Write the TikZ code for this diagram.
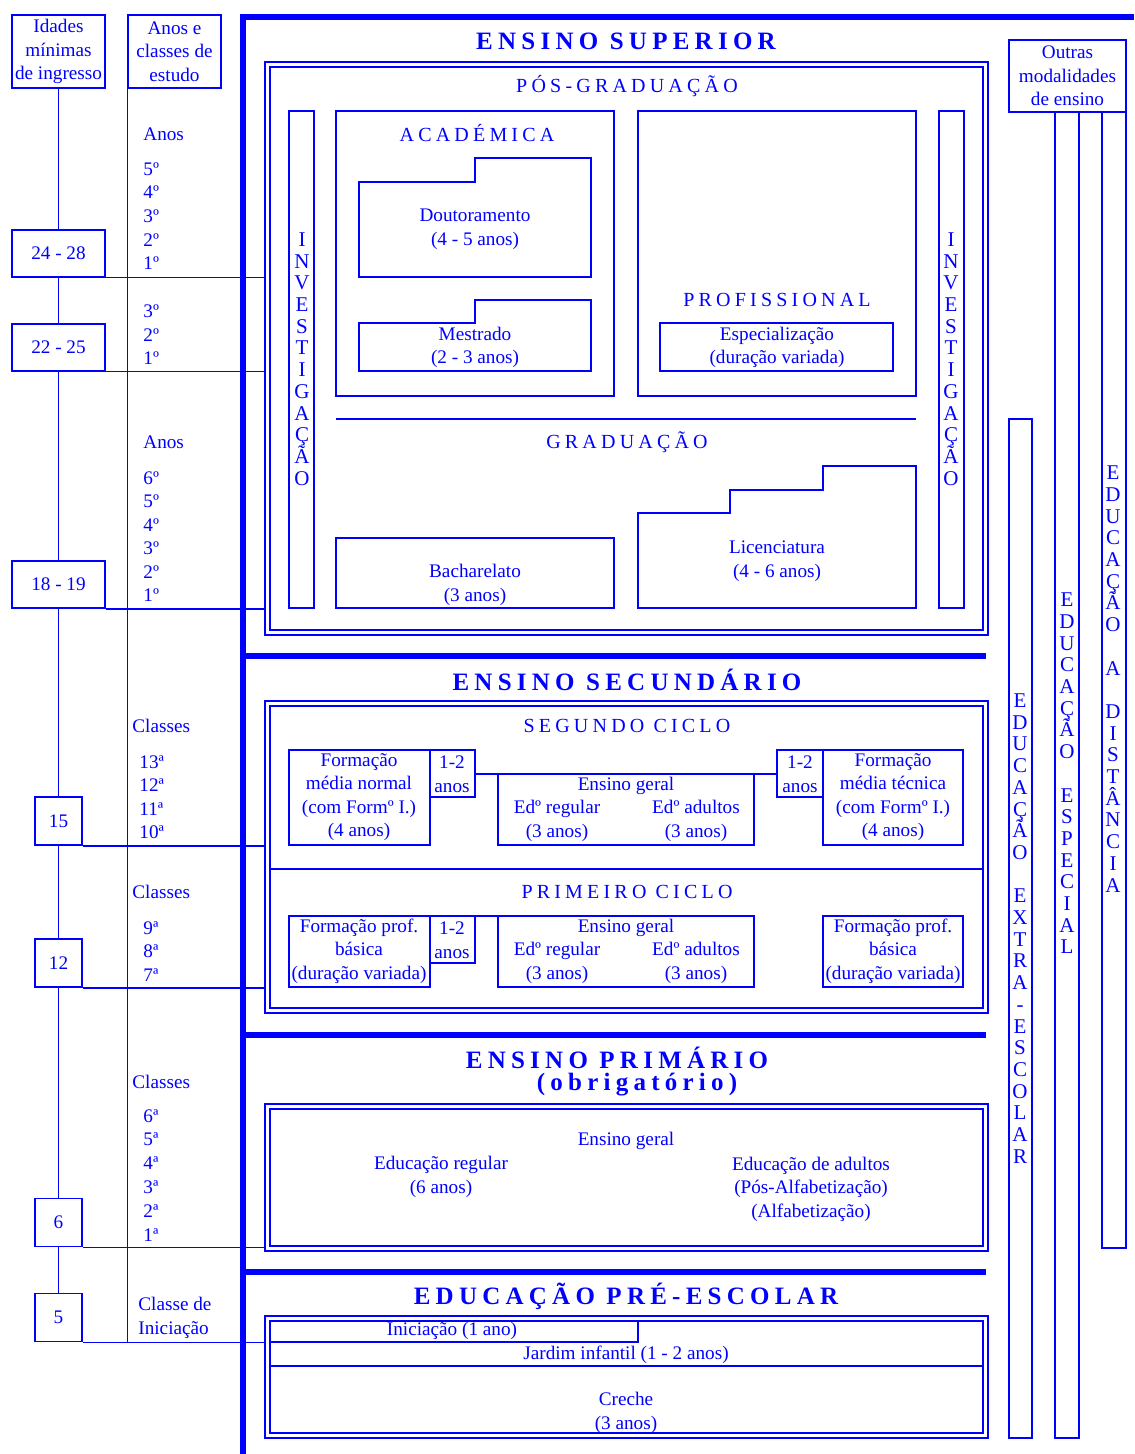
\documentclass[tikz,border=0pt]{standalone}
\usepackage{fontspec}
\setmainfont{Liberation Serif}
\newfontfamily\spacedfont[LetterSpace=21]{Liberation Serif}
\usetikzlibrary{calc}
\definecolor{azul}{RGB}{0,0,255}
\newcommand{\vletfont}{\fontsize{10.5}{10.85}\selectfont\lineskiplimit-20pt\relax}
\tikzset{
    ln/.style={draw=azul,line width=0.75pt},
    bar/.style={draw=azul,line width=3.3pt},
    txt/.style={text=azul,font=\fontsize{9.6}{11.75}\selectfont,align=center,inner sep=0pt},
    lcol/.style={txt,anchor=west,align=left},
    subtit/.style={text=azul,font=\spacedfont\fontsize{10}{12}\selectfont,inner sep=0pt},
    tit/.style={text=azul,font=\spacedfont\bfseries\fontsize{12.5}{15}\selectfont,inner sep=0pt},
    vlet/.style={text=azul,font=\vletfont,align=center,inner sep=0pt},
    agebox/.style={draw,ln,fill=white,txt,minimum width=46.5pt,minimum height=23.5pt},
    agesm/.style={agebox,minimum width=23.5pt,minimum height=24pt}
}
\newcommand{\dframe}[4]{%
    \draw[ln] (#1,#2) rectangle (#3,#4);
    \draw[ln] ($(#1,#2)+(5,5)$) rectangle ($(#3,#4)+(-5,-5)$);}
\begin{document}
\begin{tikzpicture}[x=0.5pt,y=-0.5pt]
            \useasboundingbox (0,0) rectangle (1134,1454);
            % idades e anos
            \node[agebox,minimum height=36.5pt] (idades) at (58.5,51.5) {Idades\\mínimas\\de ingresso};
            \node[agebox,minimum height=36.5pt] (anos) at (174.5,51.5) {Anos e\\classes de\\estudo};
            \node[agebox] (a2428) at (58.5,253.5) {24 - 28};
            \node[agebox] (a2225) at (58.5,347.5) {22 - 25};
            \node[agebox] (a1819) at (58.5,584.5) {18 - 19};
            \node[agesm] (a15) at (58.5,821) {15};
            \node[agesm] (a12) at (58.5,963) {12};
            \node[agesm] (a6) at (58.5,1222.5) {6};
            \node[agesm] (a5) at (58.5,1317.5) {5};
            \coordinate (fr) at (265,0);
            \foreach \a/\b in {idades/a2428,a2428/a2225,a2225/a1819,a1819/a15,a15/a12,a12/a6,a6/a5}{
                \draw[ln] (\a)--(\b);
            }
            \foreach \b in {a2428,a2225,a1819,a15,a12,a6,a5}{
                \draw[ln] (\b.south east)--(\b.south east -| fr);
            }
            \draw[ln] (anos.south west)--(anos.south west |- a5.south);
            \node[lcol] at (143,134) {Anos};
            \foreach \k/\y in {5/169,4/192,3/216,2/240,1/263,3/311,2/335,1/358}{
                \node[lcol] at (143,\y) {{\k}º};
            }
            \node[lcol] at (143,442) {Anos};
            \foreach \k/\y in {6/478,5/501,4/525,3/548,2/572,1/595}{
                \node[lcol] at (143,\y) {{\k}º};
            }
            \node[lcol] at (132,726) {Classes};
            \foreach \k/\y in {13/762,12/785,11/809,10/832}{
                \node[lcol] at (139,\y) {{\k}ª};
            }
            \node[lcol] at (132,892) {Classes};
            \foreach \k/\y in {9/928,8/951,7/975}{
                \node[lcol] at (143,\y) {{\k}ª};
            }
            \node[lcol] at (132,1082) {Classes};
            \foreach \k/\y in {6/1116,5/1139,4/1163,3/1187,2/1211,1/1235}{
                \node[lcol] at (143,\y) {{\k}ª};
            }
            \node[lcol] at (138,1318) {Classe de\\Iniciação};
            % barras grossas
            \draw[bar,line join=miter] (243,1454)--(243,17)--(1134,17);
            \foreach \y in {656,1035,1272}{
                \draw[bar] (243,\y)--(986,\y);
            }
            % ensino superior
            \node[tit] at (626,41) {ENSINO SUPERIOR};
            \dframe{265}{62}{988}{635}
            \node[subtit] at (627,86) {PÓS-GRADUAÇÃO};
            \draw[ln] (289,111) rectangle (314,608);
            \node[vlet] at (302,359) {I\\N\\V\\E\\S\\T\\I\\G\\A\\Ç\\Ã\\O};
            \draw[ln] (939,111) rectangle (964,608);
            \node[vlet] at (951,359) {I\\N\\V\\E\\S\\T\\I\\G\\A\\Ç\\Ã\\O};
            \draw[ln] (336,111) rectangle (614,396);
            \node[subtit] at (477,133) {ACADÉMICA};
            \draw[ln] (359,182)--(475,182)--(475,158)--(591,158)--(591,277)--(359,277)--cycle;
            \node[txt] at (475,229.5) {Doutoramento\\(4 - 5 anos)};
            \draw[ln] (359,323)--(475,323)--(475,300)--(591,300)--(591,371)--(359,371)--cycle;
            \node[txt] at (475,347.5) {Mestrado\\(2 - 3 anos)};
            \draw[ln] (638,111) rectangle (916,396);
            \node[subtit] at (777,300) {PROFISSIONAL};
            \draw[ln] (660,323) rectangle (893,371);
            \node[txt] at (777,347.5) {Especialização\\(duração variada)};
            \draw[ln] (336,419)--(916,419);
            \node[subtit] at (627,442) {GRADUAÇÃO};
            \draw[ln] (336,538) rectangle (614,608);
            \node[txt] at (475,585) {Bacharelato\\(3 anos)};
            \draw[ln] (638,513)--(730,513)--(730,490)--(823,490)--(823,466)--(916,466)--(916,608)--(638,608)--cycle;
            \node[txt] at (777,561) {Licenciatura\\(4 - 6 anos)};
            % ensino secundario
            \node[tit] at (627,680) {ENSINO SECUNDÁRIO};
            \dframe{265}{701}{988}{1013}
            \draw[ln] (270,869)--(983,869);
            \node[subtit] at (627,726) {SEGUNDO CICLO};
            \draw[ln] (289,750) rectangle (430,845);
            \draw[ln] (430,750) rectangle (475,797);
            \draw[ln] (475,774)--(498,774);
            \draw[ln] (498,774) rectangle (754,845);
            \draw[ln] (754,774)--(777,774);
            \draw[ln] (777,750) rectangle (823,797);
            \draw[ln] (823,750) rectangle (963,845);
            \node[txt] at (359,797) {Formação\\média normal\\(com Formº I.)\\(4 anos)};
            \node[txt] at (452,774) {1-2\\anos};
            \node[txt] at (626,786) {Ensino geral};
            \node[txt] at (557,821) {Edº regular\\(3 anos)};
            \node[txt] at (696,821) {Edº adultos\\(3 anos)};
            \node[txt] at (800,774) {1-2\\anos};
            \node[txt] at (893,797) {Formação\\média técnica\\(com Formº I.)\\(4 anos)};
            \node[subtit] at (627,892) {PRIMEIRO CICLO};
            \draw[ln] (289,916) rectangle (430,987);
            \draw[ln] (430,916) rectangle (475,963);
            \draw[ln] (475,916)--(498,916);
            \draw[ln] (498,916) rectangle (754,987);
            \draw[ln] (823,916) rectangle (963,987);
            \node[txt] at (359,951) {Formação prof.\\básica\\(duração variada)};
            \node[txt] at (452,940) {1-2\\anos};
            \node[txt] at (626,928) {Ensino geral};
            \node[txt] at (557,963) {Edº regular\\(3 anos)};
            \node[txt] at (696,963) {Edº adultos\\(3 anos)};
            \node[txt] at (893,951) {Formação prof.\\básica\\(duração variada)};
            % ensino primario
            \node[tit] at (617,1058) {ENSINO PRIMÁRIO};
            \node[tit] at (637,1085) {(obrigatório)};
            \dframe{265}{1104}{988}{1251}
            \node[txt] at (626,1141) {Ensino geral};
            \node[txt] at (441,1177) {Educação regular\\(6 anos)};
            \node[txt] at (811,1189) {Educação de adultos\\(Pós-Alfabetização)\\(Alfabetização)};
            % pre-escolar
            \node[tit] at (626,1296) {EDUCAÇÃO PRÉ-ESCOLAR};
            \dframe{265}{1316}{988}{1438}
            \draw[ln] (270,1342)-|(638,1321);
            \draw[ln] (270,1366)--(983,1366);
            \node[txt] at (452,1331) {Iniciação (1 ano)};
            \node[txt] at (626,1355) {Jardim infantil (1 - 2 anos)};
            \node[txt] at (626,1413) {Creche\\(3 anos)};
            % outras modalidades
            \node[agebox,minimum width=58.5pt,minimum height=36pt] (outras) at (1067.5,76) {Outras\\modalidades\\de ensino};
            \draw[ln] (1009,419) rectangle (1032,1438);
            \node[vlet] at (1020,928.5) {E\\D\\U\\C\\A\\Ç\\Ã\\O\\~\\E\\X\\T\\R\\A\\-\\E\\S\\C\\O\\L\\A\\R};
            \draw[ln] (1055,112) rectangle (1079,1438);
            \node[vlet] at (1067,773.5) {E\\D\\U\\C\\A\\Ç\\Ã\\O\\~\\E\\S\\P\\E\\C\\I\\A\\L};
            \draw[ln] (1102,112) rectangle (1126,1248);
            \node[vlet] at (1113,679) {E\\D\\U\\C\\A\\Ç\\Ã\\O\\~\\A\\~\\D\\I\\S\\T\\Â\\N\\C\\I\\A};
        \end{tikzpicture}
\end{document}
